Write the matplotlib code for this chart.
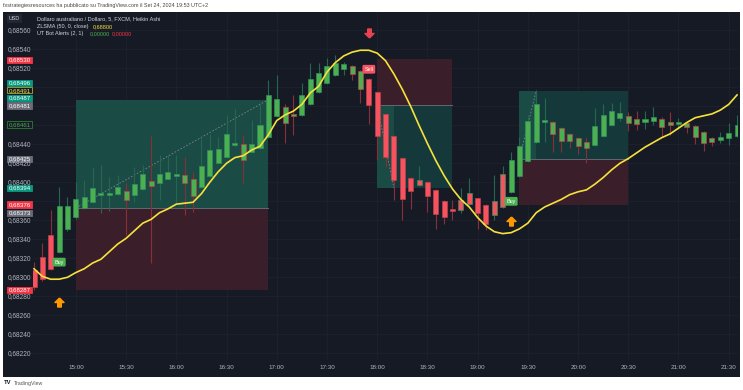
import numpy as np
import matplotlib.pyplot as plt
from matplotlib.patches import Rectangle
from matplotlib.path import Path

plt.rcParams['font.family'] = ['Liberation Sans', 'DejaVu Sans']

W, H = 743, 390  # picture size in px

# AUD/USD, 5 min Heikin Ashi bars starting 14:35, prices x 1e5
o = [68308, 68321, 68345, 68327, 68351, 68363, 68373, 68379, 68387, 68387,
     68388, 68391, 68387, 68393, 68401, 68399, 68404, 68407, 68408, 68403,
     68395, 68407, 68420, 68427, 68439, 68440, 68432, 68436, 68448, 68470,
     68479, 68472, 68471, 68482, 68495, 68505, 68513, 68519, 68522, 68517,
     68509, 68495, 68472, 68449, 68426, 68405, 68397, 68400, 68392, 68380,
     68372, 68371, 68377, 68383, 68376, 68366, 68374, 68390, 68407, 68422,
     68442, 68464, 68463, 68457, 68451, 68447, 68442, 68439, 68449, 68460,
     68468, 68470, 68467, 68463, 68465, 68467, 68463, 68462, 68462, 68459,
     68453, 68447, 68445, 68447, 68449]
h = [68316, 68336, 68371, 68395, 68385, 68400, 68402, 68416, 68418, 68406,
     68408, 68399, 68416, 68418, 68449, 68429, 68429, 68429, 68427, 68411,
     68448, 68451, 68448, 68471, 68477, 68450, 68466, 68483, 68508, 68513,
     68482, 68492, 68505, 68526, 68526, 68531, 68534, 68527, 68523, 68518,
     68510, 68496, 68473, 68450, 68427, 68406, 68417, 68401, 68393, 68381,
     68381, 68394, 68405, 68384, 68377, 68408, 68417, 68432, 68448, 68471,
     68497, 68489, 68465, 68458, 68452, 68448, 68447, 68478, 68482, 68483,
     68485, 68474, 68475, 68475, 68479, 68469, 68474, 68468, 68463, 68460,
     68454, 68448, 68453, 68462, 68471]
l = [68287, 68296, 68308, 68326, 68349, 68361, 68372, 68378, 68368, 68370,
     68387, 68345, 68379, 68392, 68315, 68381, 68403, 68378, 68366, 68369,
     68394, 68406, 68419, 68426, 68437, 68399, 68431, 68435, 68447, 68469,
     68441, 68450, 68470, 68481, 68494, 68504, 68512, 68513, 68508, 68484,
     68461, 68423, 68416, 68381, 68360, 68372, 68396, 68369, 68351, 68356,
     68360, 68368, 68376, 68351, 68350, 68360, 68373, 68389, 68406, 68421,
     68441, 68442, 68432, 68432, 68436, 68430, 68420, 68438, 68448, 68459,
     68465, 68454, 68455, 68456, 68460, 68448, 68450, 68456, 68452, 68440,
     68433, 68438, 68441, 68439, 68448]
c = [68290, 68298, 68309, 68375, 68375, 68382, 68385, 68394, 68389, 68389,
     68395, 68381, 68398, 68409, 68396, 68409, 68411, 68409, 68399, 68386,
     68417, 68434, 68435, 68451, 68441, 68424, 68440, 68460, 68492, 68488,
     68462, 68470, 68492, 68509, 68515, 68522, 68526, 68525, 68514, 68498,
     68481, 68449, 68427, 68402, 68382, 68391, 68402, 68386, 68367, 68364,
     68370, 68381, 68389, 68368, 68356, 68380, 68409, 68423, 68438, 68465,
     68482, 68466, 68451, 68443, 68443, 68438, 68436, 68459, 68471, 68475,
     68473, 68462, 68461, 68467, 68469, 68458, 68460, 68463, 68458, 68448,
     68441, 68442, 68448, 68452, 68460]

# bar colour (UT Bot state) and border/wick colour (Heikin Ashi direction)
fill_code = "RRR" + "G" * 37 + "R" * 17 + "G" * 28
edge_code = ("RRR" + "GGGGGGGG" + "R" + "GG" + "R" + "GGG" + "RR" + "GGGGG" + "R"
             + "GGGG" + "RR" + "GGGGGG" + "RR" + "RRRRRR" + "G" + "RRRR" + "GG"
             + "RR" + "GG" + "GGGGG" + "RRRRR" + "GGGG" + "RR" + "GG" + "RR" + "G"
             + "RRRR" + "GGG")

zlsma = [68309, 68301, 68298, 68298, 68300, 68305, 68309, 68315, 68319, 68327,
         68335, 68341, 68349, 68357, 68361, 68368, 68372, 68377, 68378, 68379,
         68388, 68400, 68411, 68420, 68426, 68428, 68434, 68438, 68450, 68465,
         68471, 68475, 68482, 68494, 68501, 68516, 68526, 68533, 68537, 68539,
         68539, 68536, 68528, 68514, 68498, 68480, 68460, 68441, 68423, 68407,
         68393, 68382, 68374, 68363, 68354, 68348, 68346, 68347, 68351, 68357,
         68368, 68374, 68378, 68382, 68387, 68390, 68392, 68398, 68405, 68413,
         68420, 68425, 68431, 68437, 68442, 68447, 68451, 68457, 68463, 68468,
         68470, 68472, 68476, 68482, 68492]

time_bars = [6, 12, 18, 24, 30, 36, 42, 48, 54, 60, 66, 72, 78, 84]
time_labels = ["15:00", "15:30", "16:00", "16:30", "17:00", "17:30", "18:00",
               "18:30", "19:00", "19:30", "20:00", "20:30", "21:00", "21:30"]

# position tools
trade_start = [6, 42, 59]
trade_end = [29, 51, 72]
trade_hit = [29, 44, 61]
trade_entry = [68373, 68481, 68425]
trade_target = [68487, 68394, 68496]
trade_stop = [68287, 68530, 68376]

# UT Bot signals
buy_bar = [4, 58]
buy_label_p = [68316, 68380]
buy_arrow_p = [68274, 68359]
sell_bar = [41]
sell_label_p = [68519]
sell_arrow_p = [68557]

# price tags on the axis
tag_values = [68530, 68496, 68491, 68487, 68481, 68461, 68425, 68394, 68376, 68373, 68287]
tag_kind = ['red', 'teal', 'zl', 'teal', 'grey', 'ut', 'grey', 'teal', 'red', 'grey', 'red']
tag_px = [59.7, 83, 90.5, 97.8, 105.5, 124.5, 158.5, 188, 204.5, 213, 290]

P0 = 68591.9   # price at pixel row 0
K = 1.0526     # price units per pixel


def price_at(py):
    return P0 - K * py


BG = '#161a25'
fig = plt.figure(figsize=(W / 100, H / 100), dpi=100, facecolor='white')
fig.patches.append(Rectangle((3 / W, 1 - 377 / H), 737 / W, 365 / H,
                             transform=fig.transFigure, fc=BG, ec='none', zorder=-5))

ax = fig.add_axes([33 / W, 1 - 360 / H, 705 / W, 348 / H])
ax.set_facecolor(BG)
ax.set_xlim(1 - 1 / 8.37, 1 + 704 / 8.37)
ax.set_ylim(price_at(360), price_at(12))
for s in ax.spines.values():
    s.set_visible(False)
ax.set_xticks(time_bars)
ax.set_xticklabels(time_labels)
ax.set_yticks(range(68220, 68561, 20))
ax.tick_params(axis='x', length=0, pad=3.5, labelsize=4.5, labelcolor='#b2b5be')
ax.tick_params(axis='y', length=0, labelleft=False)
ax.grid(color='#1f2330', lw=0.5)
ax.set_axisbelow(True)

# trade boxes
for s, e, hit, en, tg, st in zip(trade_start, trade_end, trade_hit,
                                 trade_entry, trade_target, trade_stop):
    ax.add_patch(Rectangle((s, min(en, tg)), e - s, abs(tg - en), fc='#15393a', ec='none', zorder=1))
    ax.add_patch(Rectangle((s, min(en, st)), e - s, abs(st - en), fc='#3a1f2a', ec='none', zorder=1))
    ax.add_patch(Rectangle((s, min(en, tg)), hit - s, abs(tg - en), fc='#1b4b45', ec='none', zorder=1.5))
    ax.plot([s, e], [en, en], color='#646773', lw=0.7, zorder=2)
    ax.plot([s, hit], [en, tg], color='#80838d', lw=0.6, ls=(0, (2, 2)), zorder=2)

# candles
fill_col = {'G': '#4caf50', 'R': '#f7525f'}
edge_col = {'G': '#2f8f5f', 'R': '#b8434b'}
wick_col = {'G': '#23674f', 'R': '#8a2e39'}
for i in range(len(o)):
    n = i + 1
    ec = edge_code[i]
    ax.vlines(n, l[i], h[i], color=wick_col[ec], lw=0.8, zorder=3)
    lo, hi = min(o[i], c[i]), max(o[i], c[i])
    if hi - lo < 1.8:
        m = (hi + lo) / 2
        lo, hi = m - 0.9, m + 0.9
    ax.add_patch(Rectangle((n - 0.3, lo), 0.6, hi - lo, fc=fill_col[fill_code[i]],
                           ec=edge_col[ec], lw=0.5, zorder=4))

bars = np.arange(1, len(zlsma) + 1)
ax.plot(bars, zlsma, color='#f7e23b', lw=1.2, zorder=5)

# signals
up_arrow = Path([(0, 1), (1, 0), (0.4, 0), (0.4, -1), (-0.4, -1), (-0.4, 0), (-1, 0), (0, 1)])
down_arrow = Path([(0, -1), (1, 0), (0.4, 0), (0.4, 1), (-0.4, 1), (-0.4, 0), (-1, 0), (0, -1)])
for n, pl, pa in zip(buy_bar, buy_label_p, buy_arrow_p):
    ax.text(n, pl, 'Buy', ha='center', va='center', fontsize=3.9, color='white', zorder=7,
            bbox=dict(boxstyle='round,pad=0.35,rounding_size=0.25', fc='#4caf50', ec='none'))
    ax.plot(n, pa, marker=up_arrow, ms=6.5, color='#ff9800', ls='none', zorder=7)
for n, pl, pa in zip(sell_bar, sell_label_p, sell_arrow_p):
    ax.text(n, pl, 'Sell', ha='center', va='center', fontsize=3.9, color='white', zorder=7,
            bbox=dict(boxstyle='round,pad=0.35,rounding_size=0.25', fc='#f7525f', ec='none'))
    ax.plot(n, pa, marker=down_arrow, ms=6.5, color='#e5434f', ls='none', zorder=7)

# price axis on the left
axp = fig.add_axes([3 / W, 1 - 360 / H, 30 / W, 348 / H])
axp.set_xlim(3, 33)
axp.set_ylim(price_at(360), price_at(12))
axp.axis('off')
for v in range(68220, 68561, 20):
    ypx = (P0 - v) / K
    if min(abs(ypx - t) for t in tag_px) < 4:
        continue
    axp.text(8, v, f"0,{v}", ha='left', va='center', fontsize=4.7, color='#b2b5be')

tag_style = {'red': ('#f23645', '#f23645', 'white'),
             'teal': ('#089981', '#089981', 'white'),
             'grey': ('#6a6d78', '#6a6d78', 'white'),
             'zl': (BG, '#b5a630', '#f7e23b'),
             'ut': (BG, '#2e7d32', '#4caf50')}
for v, kind, ypx in zip(tag_values, tag_kind, tag_px):
    fc, ec, tc = tag_style[kind]
    yc = price_at(ypx)
    axp.add_patch(Rectangle((7, yc - 3 * K), 25, 6 * K, fc=fc, ec=ec, lw=0.6))
    axp.text(19.5, yc, f"0,{v}", ha='center', va='center', fontsize=4.4, color=tc)

# legend and header texts
def fxy(px, py):
    return px / W, 1 - py / H


fig.patches.append(Rectangle(fxy(7, 23), 15 / W, 9 / H, transform=fig.transFigure,
                             fc='#222632', ec='none', zorder=2))
fig.text(*fxy(14.5, 18.5), "USD", ha='center', va='center', fontsize=3.9, color='#d1d4dc', zorder=3)
fig.text(*fxy(37, 19), "Dollaro australiano / Dollaro, 5, FXCM, Heikin Ashi",
         va='center', fontsize=3.95, color='#d1d4dc')
fig.text(*fxy(37, 26.5), "ZLSMA (50, 0, close)", va='center', fontsize=3.95, color='#d1d4dc')
fig.text(*fxy(93, 26.5), "0,68800", va='center', fontsize=3.95, color='#f7e23b')
fig.text(*fxy(37, 34), "UT Bot Alerts (2, 1)", va='center', fontsize=3.95, color='#d1d4dc')
fig.text(*fxy(90, 34), "0,00000", va='center', fontsize=3.95, color='#4caf50')
fig.text(*fxy(112, 34), "0,00000", va='center', fontsize=3.95, color='#f23645')

fig.text(*fxy(3, 6), "fxstrategiesresources ha pubblicato su TradingView.com il Set 24, 2024 19:53 UTC+2",
         va='center', fontsize=3.85, color='#444444')
fig.text(*fxy(4, 383), "TV", va='center', fontsize=4.2, weight='bold', color='#131722')
fig.text(*fxy(14, 383), "TradingView", va='center', fontsize=3.8, color='#555555')

fig.savefig('out.png', dpi=100, facecolor='white')
